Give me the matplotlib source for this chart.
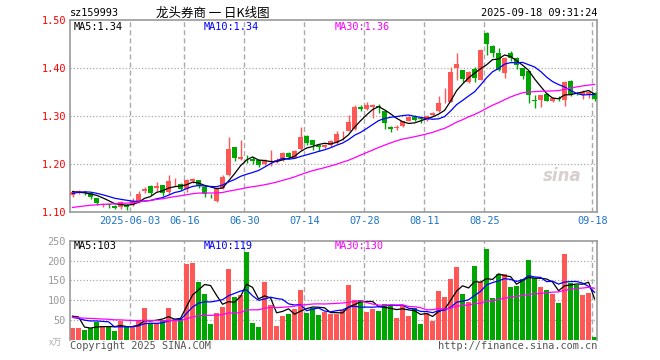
import numpy as np
import matplotlib
matplotlib.use('Agg')
import matplotlib.pyplot as plt

# daily K line 2025-05-19 .. 2025-09-18 (88 sessions)
opens = [1.136, 1.140, 1.143, 1.140, 1.129, 1.116, 1.117, 1.114, 1.111, 1.116,
         1.115, 1.122, 1.144, 1.155, 1.150, 1.156, 1.143, 1.162, 1.158, 1.148,
         1.166, 1.167, 1.153, 1.134, 1.123, 1.150, 1.178, 1.235, 1.211, 1.211,
         1.211, 1.208, 1.200, 1.205, 1.206, 1.209, 1.223, 1.213, 1.231, 1.259,
         1.250, 1.240, 1.236, 1.240, 1.244, 1.266, 1.270, 1.273, 1.319, 1.315,
         1.319, 1.322, 1.310, 1.278, 1.276, 1.279, 1.290, 1.299, 1.296, 1.292,
         1.303, 1.310, 1.329, 1.330, 1.400, 1.395, 1.372, 1.398, 1.376, 1.473,
         1.446, 1.432, 1.390, 1.431, 1.421, 1.400, 1.393, 1.333, 1.333, 1.3465,
         1.331, 1.337, 1.333, 1.374, 1.349, 1.345, 1.346, 1.349]
highs = [1.146, 1.146, 1.144, 1.141, 1.130, 1.119, 1.118, 1.116, 1.124, 1.118,
         1.129, 1.144, 1.153, 1.156, 1.162, 1.157, 1.178, 1.172, 1.160, 1.170,
         1.172, 1.168, 1.154, 1.138, 1.151, 1.177, 1.257, 1.236, 1.251, 1.219,
         1.214, 1.209, 1.210, 1.230, 1.212, 1.226, 1.225, 1.229, 1.278, 1.260,
         1.251, 1.241, 1.243, 1.250, 1.270, 1.270, 1.303, 1.323, 1.323, 1.330,
         1.325, 1.326, 1.311, 1.280, 1.281, 1.290, 1.301, 1.303, 1.299, 1.303,
         1.309, 1.342, 1.358, 1.403, 1.431, 1.396, 1.393, 1.403, 1.439, 1.474,
         1.448, 1.441, 1.423, 1.435, 1.424, 1.401, 1.394, 1.344, 1.345, 1.348,
         1.338, 1.341, 1.374, 1.376, 1.350, 1.355, 1.352, 1.351]
lows = [1.131, 1.138, 1.135, 1.127, 1.115, 1.111, 1.109, 1.106, 1.107, 1.104,
        1.113, 1.120, 1.140, 1.136, 1.144, 1.133, 1.139, 1.155, 1.147, 1.143,
        1.161, 1.150, 1.131, 1.129, 1.121, 1.148, 1.176, 1.206, 1.209, 1.203,
        1.200, 1.194, 1.198, 1.197, 1.203, 1.207, 1.210, 1.212, 1.229, 1.240,
        1.230, 1.228, 1.234, 1.236, 1.243, 1.250, 1.269, 1.272, 1.310, 1.312,
        1.296, 1.306, 1.274, 1.268, 1.271, 1.277, 1.289, 1.289, 1.285, 1.290,
        1.301, 1.309, 1.328, 1.329, 1.376, 1.372, 1.368, 1.372, 1.375, 1.428,
        1.424, 1.393, 1.379, 1.415, 1.398, 1.377, 1.328, 1.316, 1.319, 1.331,
        1.330, 1.331, 1.322, 1.342, 1.344, 1.335, 1.338, 1.331]
closes = [1.143, 1.144, 1.140, 1.131, 1.119, 1.117, 1.115, 1.108, 1.122, 1.112,
          1.124, 1.138, 1.149, 1.141, 1.155, 1.141, 1.166, 1.163, 1.149, 1.167,
          1.169, 1.157, 1.138, 1.133, 1.150, 1.174, 1.231, 1.213, 1.216, 1.210,
          1.206, 1.199, 1.2075, 1.206, 1.209, 1.224, 1.215, 1.228, 1.256, 1.245,
          1.240, 1.236, 1.241, 1.248, 1.263, 1.268, 1.287, 1.319, 1.315, 1.324,
          1.3235, 1.318, 1.285, 1.274, 1.277, 1.289, 1.299, 1.291, 1.295, 1.300,
          1.307, 1.328, 1.330, 1.391, 1.409, 1.377, 1.391, 1.379, 1.437, 1.450,
          1.431, 1.397, 1.421, 1.421, 1.407, 1.384, 1.343, 1.332, 1.344, 1.3325,
          1.3375, 1.335, 1.372, 1.3465, 1.347, 1.351, 1.350, 1.335]
# volume, x万
volumes = [31, 31, 25, 31, 46, 35, 32, 23, 47, 32,
           35, 50, 80, 42, 42, 50, 80, 48, 52, 191,
           195, 145, 115, 40, 67.5, 82.5, 177.5, 107.5, 112.5, 222.5,
           42.5, 32.5, 145, 87.5, 35, 60, 65, 77.5, 125, 67.5,
           80, 62.5, 70, 65, 66.7, 76.7, 137.5, 100, 100, 70,
           77.5, 73.3, 90, 87.5, 55, 86.7, 60, 80, 40, 67.5,
           48.3, 122.5, 107.5, 152.5, 185, 115, 95, 187.5, 145, 230,
           105, 165, 165, 132.5, 135, 152.5, 202.5, 155, 132.5, 125,
           115, 92.5, 217.5, 142.5, 137.5, 112.5, 117.5, 7.5]

# sessions before the window, only needed for the moving averages
prior_closes = [1.092, 1.095, 1.090, 1.088, 1.093, 1.097, 1.094, 1.091, 1.096, 1.099,
                1.095, 1.092, 1.094, 1.098, 1.100, 1.097, 1.095, 1.099, 1.102, 1.104,
                1.118, 1.130, 1.138, 1.142, 1.147, 1.150, 1.146, 1.144, 1.132]
prior_volumes = [62, 55, 48, 70, 58, 51, 66, 49, 60, 54,
                 57, 63, 47, 52, 68, 55, 59, 50, 61, 55,
                 58, 68, 52, 45, 47, 41, 152, 44, 32]

date_pos = [10, 19, 29, 39, 49, 59, 69, 87]
date_labels = ['2025-06-03', '06-16', '06-30', '07-14', '07-28', '08-11', '08-25', '09-18']
price_ticks = [1.10, 1.20, 1.30, 1.40, 1.50]
vol_ticks = [50, 100, 150, 200, 250]

RED = '#ff5656'
GREEN = '#00a600'
GRID = '#aaaaaa'
MONO = 'DejaVu Sans Mono'
FS = 7.4


def ma(prior, vals, n):
    s = np.array(prior + vals, dtype=float)
    return np.convolve(s, np.ones(n) / n, mode='valid')[-len(vals):]


o = np.array(opens)
h = np.array(highs)
l = np.array(lows)
c = np.array(closes)
v = np.array(volumes)
x = np.arange(len(c))
up = c >= o
colors = np.where(up, RED, GREEN)

W, H = 660, 360
fig = plt.figure(figsize=(6.6, 3.6), dpi=100)


def px(xp, yp):
    return xp / W, 1 - yp / H


ax = fig.add_axes([70 / W, 1 - 212.3 / H, 527 / W, 192.3 / H])
axv = fig.add_axes([70 / W, 1 - 340 / H, 527 / W, 99.3 / H])

for a in (ax, axv):
    a.set_xlim(-0.42, 87.4)
    for s in a.spines.values():
        s.set_color('#999999')
        s.set_linewidth(1.2)
    a.tick_params(length=0)
    for d in date_pos:
        a.axvline(d - 0.37, color=GRID, lw=1, ls=(0, (3.6, 2.2)), zorder=0)
axv.spines['bottom'].set_visible(False)

# price panel
ax.set_ylim(1.10, 1.50)
for p in price_ticks[1:-1]:
    ax.axhline(p, color=GRID, lw=0.9, ls=(0, (1, 1.6)), zorder=0)
ax.set_yticks(price_ticks)
ax.set_yticklabels(['%.2f' % p for p in price_ticks], color='red',
                   fontfamily=MONO, fontsize=FS)
ax.tick_params(axis='y', pad=3)
ax.set_xticks([d - 0.37 for d in date_pos])
ax.set_xticklabels(date_labels, color='#1c74c8', fontfamily=MONO, fontsize=FS)
ax.tick_params(axis='x', pad=3)

ax.vlines(x, l, h, colors=colors, lw=1, zorder=2)
body = np.maximum(np.abs(c - o), 0.0012)
ax.bar(x, body, bottom=np.minimum(o, c), width=0.82, color=colors, zorder=3)

ax.plot(x, ma(prior_closes, closes, 5), color='black', lw=0.9, zorder=4)
ax.plot(x, ma(prior_closes, closes, 10), color='#0000ff', lw=0.9, zorder=4)
ax.plot(x, ma(prior_closes, closes, 30), color='#ff00ff', lw=0.9, zorder=4)

# volume panel
axv.set_ylim(0, 250)
for p in vol_ticks[:-1]:
    axv.axhline(p, color=GRID, lw=0.9, ls=(0, (1, 1.6)), zorder=0)
axv.set_yticks(vol_ticks)
axv.set_yticklabels([str(t) for t in vol_ticks], color='#999999',
                    fontfamily=MONO, fontsize=FS)
axv.tick_params(axis='y', pad=3)
axv.set_xticks([])
axv.bar(x, v, width=0.82, color=colors, zorder=2)
axv.plot(x, ma(prior_volumes, volumes, 5), color='black', lw=0.9, zorder=4)
axv.plot(x, ma(prior_volumes, volumes, 10), color='#0000ff', lw=0.9, zorder=4)
axv.plot(x, ma(prior_volumes, volumes, 30), color='#ff00ff', lw=0.9, zorder=4)

# texts
fig.text(*px(70, 13), 'sz159993', fontfamily=MONO, fontsize=FS, va='center')
fig.text(*px(213, 13), '龙头券商 一 日K线图', fontfamily=['Noto Sans CJK SC', 'DejaVu Sans'],
         fontsize=9, ha='center', va='center')
fig.text(*px(597, 13), '2025-09-18 09:31:24', fontfamily=MONO, fontsize=FS,
         ha='right', va='center')

fig.text(*px(74, 27), 'MA5:1.34', fontfamily=MONO, fontsize=FS, va='center', color='black')
fig.text(*px(204, 27), 'MA10:1.34', fontfamily=MONO, fontsize=FS, va='center', color='#0000ff')
fig.text(*px(335, 27), 'MA30:1.36', fontfamily=MONO, fontsize=FS, va='center', color='#ff00ff')

fig.text(*px(74, 246), 'MA5:103', fontfamily=MONO, fontsize=FS, va='center', color='black')
fig.text(*px(204, 246), 'MA10:119', fontfamily=MONO, fontsize=FS, va='center', color='#0000ff')
fig.text(*px(335, 246), 'MA30:130', fontfamily=MONO, fontsize=FS, va='center', color='#ff00ff')

fig.text(*px(49, 343), 'x万', fontfamily=['Noto Sans CJK SC', 'DejaVu Sans'], fontsize=6.5,
         va='center', color='#aaaaaa')
fig.text(*px(70, 346), 'Copyright 2025 SINA.COM', fontfamily=MONO, fontsize=FS,
         va='center', color='#555555')
fig.text(*px(597, 346), 'http://finance.sina.com.cn', fontfamily=MONO, fontsize=FS,
         ha='right', va='center', color='#555555')

fig.text(*px(562, 176), 'sina', fontsize=12, fontweight='bold', style='italic',
         color='#cfc4c4', ha='center', va='center', alpha=0.8)

fig.savefig('out.png', dpi=100)
